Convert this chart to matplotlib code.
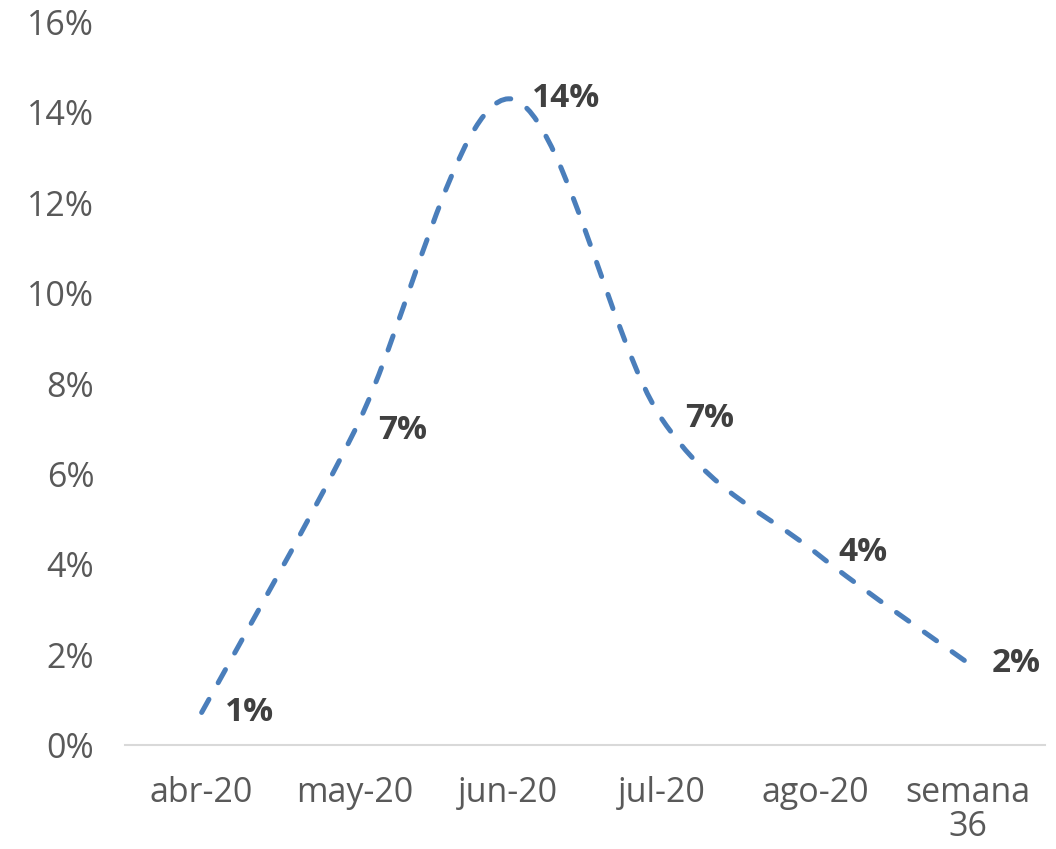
import matplotlib.pyplot as plt
from matplotlib.path import Path
from matplotlib.patches import PathPatch

categories = ['abr-20', 'may-20', 'jun-20', 'jul-20', 'ago-20', 'semana\n36']
values = [0.0072, 0.0697, 0.143, 0.0722, 0.0427, 0.0181]
labels = ['1%', '7%', '14%', '7%', '4%', '2%']

plt.rcParams['font.family'] = ['Open Sans', 'DejaVu Sans']

fig = plt.figure(figsize=(10.56, 8.49), dpi=100)
ax = fig.add_axes([125 / 1056, 1 - 745 / 849, 920 / 1056, 723 / 849])

# smoothed line like Excel (bezier segments through each point)
xs = list(range(len(values)))
pts = list(zip(xs, values))
verts = [pts[0]]
codes = [Path.MOVETO]
for i in range(len(pts) - 1):
    p0 = pts[i - 1] if i > 0 else pts[i]
    p1 = pts[i]
    p2 = pts[i + 1]
    p3 = pts[i + 2] if i + 2 < len(pts) else pts[i + 1]
    c1 = (p1[0] + (p2[0] - p0[0]) / 6, p1[1] + (p2[1] - p0[1]) / 6)
    c2 = (p2[0] - (p3[0] - p1[0]) / 6, p2[1] - (p3[1] - p1[1]) / 6)
    verts += [c1, c2, p2]
    codes += [Path.CURVE4] * 3
patch = PathPatch(Path(verts, codes), fill=False, edgecolor='#4a7ebb',
                  lw=3.6, linestyle=(0, (3.0, 3.8)), capstyle='round')
ax.add_patch(patch)

for x, v, t in zip(xs, values, labels):
    ax.annotate(t, (x, v), xytext=(17, 0), textcoords='offset points',
                ha='left', va='center', fontsize=24, fontweight='bold',
                color='#404040')

ax.set_xlim(-0.5, len(categories) - 0.5)
ax.set_ylim(0, 0.16)
ax.set_yticks([i / 100 for i in range(0, 17, 2)])
ax.set_yticklabels([f'{i}%' for i in range(0, 17, 2)])
ax.set_xticks(xs)
ax.set_xticklabels(categories, linespacing=1.0)
ax.tick_params(axis='both', length=0, labelsize=24.5, colors='#595959')
ax.tick_params(axis='y', pad=22)
ax.tick_params(axis='x', pad=22)
for s in ['top', 'right', 'left']:
    ax.spines[s].set_visible(False)
ax.spines['bottom'].set_color('#d9d9d9')
ax.spines['bottom'].set_linewidth(1.5)

plt.savefig('out.png', dpi=100)
